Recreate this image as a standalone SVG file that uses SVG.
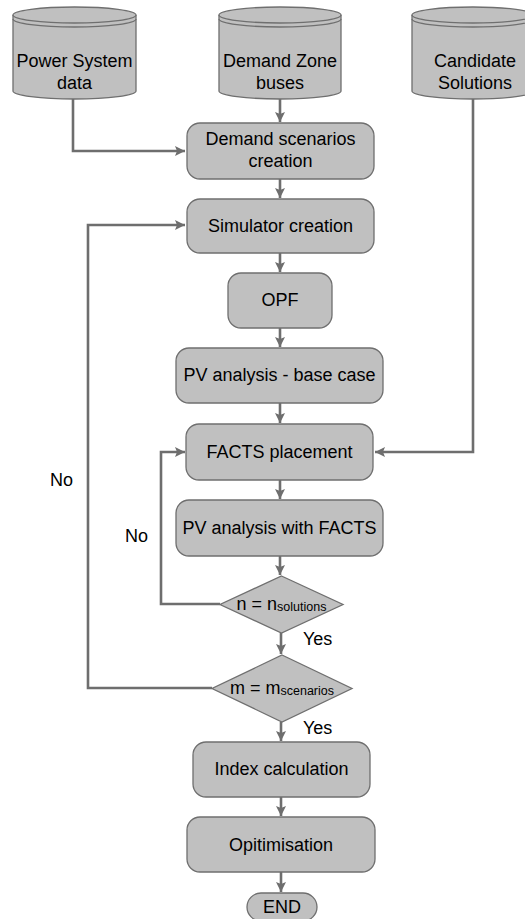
<svg xmlns="http://www.w3.org/2000/svg" width="525" height="919" viewBox="0 0 525 919">
  <style>
    .node { fill: #c0c0c0; stroke: #6f6f6f; stroke-width: 1.3; }
    .rim { fill: none; stroke: #6f6f6f; stroke-width: 1.3; }
    .edge { fill: none; stroke: #6e6e6e; stroke-width: 2.6; }
    text { font-family: "Liberation Sans", Arial, sans-serif; font-size: 18px; fill: #000; }
    .c { text-anchor: middle; }
    .sub { font-size: 12.5px; }
  </style>
  <defs>
    <marker id="arrow" markerUnits="userSpaceOnUse" markerWidth="12" markerHeight="12" refX="10" refY="5" orient="auto">
      <path d="M0,0 L10,5 L0,10 L2,5 z" fill="#6e6e6e"/>
    </marker>
  </defs>

  <rect width="525" height="919" fill="#ffffff"/>

  <!-- connectors -->
  <g id="connectors">
    <path class="edge" d="M73,99 V151 H185" marker-end="url(#arrow)"/>
    <path class="edge" d="M280,99 V122" marker-end="url(#arrow)"/>
    <path class="edge" d="M473,99 V452 H375" marker-end="url(#arrow)"/>
    <path class="edge" d="M280,179 V198" marker-end="url(#arrow)"/>
    <path class="edge" d="M280,253 V272" marker-end="url(#arrow)"/>
    <path class="edge" d="M280,328 V347" marker-end="url(#arrow)"/>
    <path class="edge" d="M280,403 V423" marker-end="url(#arrow)"/>
    <path class="edge" d="M280,480 V499" marker-end="url(#arrow)"/>
    <path class="edge" d="M280,556 V575" marker-end="url(#arrow)"/>
    <path class="edge" d="M281,633 V654" marker-end="url(#arrow)"/>
    <path class="edge" d="M220,604 H161 V452 H185" marker-end="url(#arrow)"/>
    <path class="edge" d="M212,688 H88 V225 H185" marker-end="url(#arrow)"/>
    <path class="edge" d="M281,722 V741" marker-end="url(#arrow)"/>
    <path class="edge" d="M281,797 V816" marker-end="url(#arrow)"/>
    <path class="edge" d="M281,872 V892" marker-end="url(#arrow)"/>
    <text x="303" y="645">Yes</text>
    <text x="303" y="734">Yes</text>
    <text x="50" y="486">No</text>
    <text x="125" y="542">No</text>
  </g>

  <!-- data stores -->
  <g id="power-system-data">
    <path class="node" d="M13,15 A61.5,8 0 0 1 136,15 V91 A61.5,8 0 0 1 13,91 Z"/>
    <path class="rim" d="M13,15 A61.5,8 0 0 0 136,15 M13,19 A61.5,8 0 0 0 136,19"/>
    <text class="c" x="74.5" y="67">Power System</text>
    <text class="c" x="74.5" y="89">data</text>
  </g>
  <g id="demand-zone-buses">
    <path class="node" d="M219,15 A61,8 0 0 1 341,15 V91 A61,8 0 0 1 219,91 Z"/>
    <path class="rim" d="M219,15 A61,8 0 0 0 341,15 M219,19 A61,8 0 0 0 341,19"/>
    <text class="c" x="280" y="67">Demand Zone</text>
    <text class="c" x="280" y="89">buses</text>
  </g>
  <g id="candidate-solutions">
    <path class="node" d="M412,15 A61,8 0 0 1 534,15 V91 A61,8 0 0 1 412,91 Z"/>
    <path class="rim" d="M412,15 A61,8 0 0 0 534,15 M412,19 A61,8 0 0 0 534,19"/>
    <text class="c" x="475" y="67">Candidate</text>
    <text class="c" x="475" y="89">Solutions</text>
  </g>

  <!-- process steps -->
  <g id="demand-scenarios">
    <rect class="node" x="187" y="123" width="187" height="56" rx="13"/>
    <text class="c" x="280.5" y="145">Demand scenarios</text>
    <text class="c" x="280.5" y="167">creation</text>
  </g>
  <g id="simulator-creation">
    <rect class="node" x="187" y="199" width="187" height="54" rx="13"/>
    <text class="c" x="280.5" y="232">Simulator creation</text>
  </g>
  <g id="opf">
    <rect class="node" x="228" y="273" width="104" height="55" rx="13"/>
    <text class="c" x="280" y="306">OPF</text>
  </g>
  <g id="pv-base-case">
    <rect class="node" x="176" y="348" width="207" height="55" rx="13"/>
    <text class="c" x="279.5" y="381">PV analysis - base case</text>
  </g>
  <g id="facts-placement">
    <rect class="node" x="186" y="424" width="187" height="56" rx="13"/>
    <text class="c" x="279.5" y="458">FACTS placement</text>
  </g>
  <g id="pv-with-facts">
    <rect class="node" x="176" y="500" width="207" height="56" rx="13"/>
    <text class="c" x="279.5" y="534">PV analysis with FACTS</text>
  </g>

  <!-- decisions -->
  <g id="solutions-check">
    <path class="node" d="M281.5,576 L343,604.5 L281.5,633 L220,604.5 Z"/>
    <text class="c" x="281.5" y="610">n = n<tspan class="sub" dy="1">solutions</tspan></text>
  </g>
  <g id="scenarios-check">
    <path class="node" d="M282,655 L352,688.5 L282,722 L212,688.5 Z"/>
    <text class="c" x="282" y="694">m = m<tspan class="sub" dy="1">scenarios</tspan></text>
  </g>

  <g id="index-calculation">
    <rect class="node" x="193" y="742" width="177" height="55" rx="13"/>
    <text class="c" x="281.5" y="775">Index calculation</text>
  </g>
  <g id="optimisation">
    <rect class="node" x="187" y="817" width="188" height="55" rx="13"/>
    <text class="c" x="281" y="851">Opitimisation</text>
  </g>
  <g id="end">
    <rect class="node" x="247" y="893" width="70" height="28" rx="14"/>
    <text class="c" x="282" y="913">END</text>
  </g>
</svg>
